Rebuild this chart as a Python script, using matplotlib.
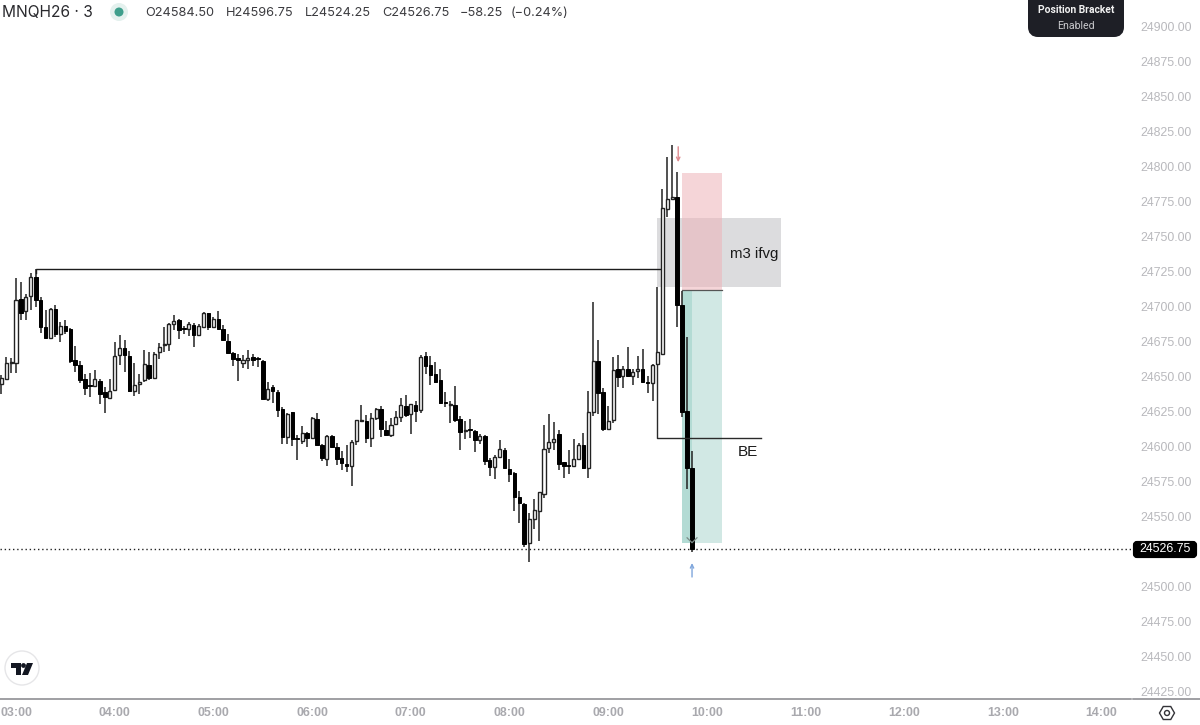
import matplotlib
matplotlib.use("Agg")
import matplotlib.pyplot as plt
from matplotlib.patches import Circle, FancyBboxPatch, Polygon, RegularPolygon
import numpy as np

# MNQH26 3 minute candles, bar 0 = 03:00, one bar = 3 min
opens = [24644.5, 24648, 24659.5, 24659.75, 24705, 24696.5, 24707.25, 24721, 24704.5, 24685,
         24677.25, 24697.75, 24680.25, 24686, 24683.5, 24661.75, 24658, 24648, 24643.25, 24643,
         24646.25, 24638.5, 24634.5, 24640, 24665, 24670, 24664.75, 24639.25, 24644.25, 24647.5,
         24658, 24648.75, 24667.5, 24672.25, 24672.75, 24687.5, 24690.5, 24684.25, 24683.5, 24686.5,
         24679.75, 24685.25, 24695, 24685.5, 24691, 24683.75, 24675.5, 24666.5, 24663, 24659.75,
         24661.5, 24664, 24662.25, 24661, 24634, 24642, 24638.75, 24626.5, 24606.5, 24624.25,
         24605.5, 24604, 24609.75, 24605.5, 24619.75, 24601, 24591, 24607.25, 24599.5, 24591.5,
         24587.25, 24585.5, 24603.75, 24618.25, 24618, 24606, 24620.5, 24626.75, 24611.5, 24608.25,
         24616, 24621, 24628.75, 24622.75, 24629.25, 24626, 24664.25, 24657.75, 24651.5, 24647,
         24631.25, 24629.25, 24629.25, 24619.5, 24611, 24612, 24610.5, 24604.5, 24607.5, 24590,
         24585.25, 24592.5, 24597, 24584, 24580.75, 24564, 24558.5, 24530.5, 24548.25, 24553.75,
         24565.5, 24599, 24603, 24609, 24588.5, 24586.25, 24586, 24590.75, 24601, 24584.25,
         24624.75, 24661, 24638.5, 24612.25, 24618.75, 24655, 24650.25, 24655, 24650.25, 24653.5,
         24655, 24645.5, 24645.5, 24658.5, 24666, 24769.5, 24776.75, 24778, 24701, 24625, 24584.5]
highs = [24651, 24663.5, 24662.75, 24720, 24717.5, 24709, 24723.5, 24727, 24706.5, 24697.25,
         24698.5, 24701, 24689, 24690.25, 24684.25, 24671.75, 24660.75, 24651.25, 24652, 24654.5,
         24648, 24642, 24647.75, 24674.75, 24679.5, 24676, 24668, 24659.25, 24651.5, 24668.75,
         24667.5, 24667.5, 24673.5, 24685.5, 24688.25, 24693.5, 24691.25, 24686, 24689, 24688.25,
         24687.25, 24696, 24695.5, 24692.5, 24696.75, 24686.5, 24680.5, 24667.5, 24666.25, 24665.25,
         24668.75, 24666, 24663.5, 24661.25, 24645.75, 24643.75, 24640, 24628.25, 24623.5, 24624.75,
         24607.75, 24614.25, 24610, 24620.75, 24623.5, 24601.25, 24607.75, 24608, 24602, 24596.5,
         24601, 24604.5, 24618.75, 24629.5, 24622.25, 24623.5, 24627, 24628.75, 24618.25, 24620,
         24625.5, 24634.25, 24636.5, 24630.25, 24632.25, 24665.25, 24667, 24664.5, 24660, 24655,
         24638.75, 24632.25, 24643.25, 24621.5, 24618.25, 24619.25, 24611.5, 24608.75, 24608, 24591.75,
         24593.75, 24604.5, 24599, 24590.75, 24581.25, 24568, 24559.25, 24552, 24562.25, 24567.5,
         24615.25, 24622.75, 24617.25, 24611.25, 24589, 24597.25, 24605, 24602, 24609.25, 24639.5,
         24703.25, 24676, 24641.25, 24629, 24664, 24665.25, 24657.25, 24670.75, 24655, 24664.5,
         24669.25, 24650.25, 24658.75, 24713.75, 24783.75, 24806.75, 24815.25, 24796, 24711, 24678, 24596.75]
lows = [24637.5, 24647.75, 24652, 24652.5, 24690.5, 24690, 24697.25, 24699.75, 24681, 24677,
        24676.5, 24677.75, 24674.75, 24680.25, 24659.25, 24652.75, 24645.5, 24636.5, 24635.25, 24642,
        24630, 24624, 24634, 24639.75, 24658, 24653.25, 24638.75, 24635.75, 24637.25, 24646,
        24647.25, 24648.5, 24662, 24667.5, 24668.25, 24683, 24676.75, 24680.25, 24678.75, 24671,
        24679.25, 24684.75, 24683, 24684.25, 24683.5, 24675.5, 24666, 24657.25, 24646.75, 24656,
        24655, 24657, 24656.5, 24633.5, 24632, 24630.75, 24620.75, 24601.5, 24601.5, 24600,
        24590.25, 24601.5, 24599.5, 24605, 24600.5, 24589.75, 24586, 24598.75, 24586.5, 24583,
        24581.75, 24571.5, 24601, 24617.5, 24602.5, 24599.75, 24618.75, 24606.75, 24607.75, 24606.5,
        24615.5, 24617.25, 24620.75, 24608.75, 24617.25, 24624, 24651.5, 24643.5, 24645, 24630.5,
        24627.75, 24616.75, 24617.5, 24597.25, 24605.25, 24605.75, 24596, 24601.25, 24586.25, 24578.75,
        24576.75, 24591.75, 24583.5, 24574.5, 24553.5, 24544.75, 24528.25, 24517.5, 24540.5, 24532.5,
        24562.75, 24595.25, 24597.25, 24582.75, 24577, 24580, 24585.25, 24590.25, 24583.75, 24577.5,
        24621.75, 24623.25, 24611, 24611.5, 24616.75, 24642.5, 24641.75, 24649.75, 24643.75, 24649,
        24645.5, 24637.75, 24632.5, 24658.25, 24665.5, 24763.75, 24776, 24685.25, 24621, 24569.5, 24524.25]
closes = [24648.5, 24659.75, 24659.75, 24704.25, 24695.5, 24706.5, 24721, 24704.5, 24685, 24677.25,
          24697.75, 24680.25, 24686, 24682.5, 24661, 24658, 24647, 24641.25, 24643, 24647.75,
          24637.5, 24635.25, 24639.25, 24664.25, 24670, 24665, 24639.25, 24643.5, 24646, 24659,
          24648.5, 24666.25, 24671, 24672.5, 24687.5, 24689.75, 24683, 24684, 24687.25, 24679.75,
          24686.25, 24695, 24685.25, 24691, 24684, 24676, 24666.5, 24662.5, 24661.25, 24661.25,
          24662.75, 24661.5, 24662, 24634, 24641, 24639.5, 24625.75, 24606.5, 24623, 24605.25,
          24605.25, 24609.25, 24606, 24620.25, 24601, 24591.25, 24607.25, 24599.25, 24590.5, 24587.75,
          24585.5, 24603, 24618.5, 24618.5, 24605.75, 24620.5, 24626.5, 24612.25, 24608.25, 24615.5,
          24620.75, 24629.75, 24622.5, 24630, 24625.25, 24664, 24657, 24651, 24646, 24631,
          24631, 24629.5, 24619, 24610, 24611.25, 24611.75, 24604.5, 24607, 24589.75, 24585,
          24592, 24598.25, 24584.25, 24580, 24564, 24559.5, 24529.75, 24547.75, 24554.25, 24567,
          24598.25, 24602.75, 24605, 24587.5, 24585.75, 24586, 24591, 24600.5, 24584.25, 24624.75,
          24661, 24637.75, 24612.25, 24618.25, 24654.5, 24649.5, 24655, 24650.25, 24652.75, 24655.5,
          24646, 24645.25, 24658.25, 24667, 24770.25, 24776.75, 24778, 24701, 24624.5, 24584.5, 24526.75]
first_bar = -3

# 24525.00 is hidden behind the last price tag on the real chart
price_ticks = [p for p in range(24425, 24901, 25) if p != 24525]
hour_labels = ["03:00", "04:00", "05:00", "06:00", "07:00", "08:00", "09:00",
               "10:00", "11:00", "12:00", "13:00", "14:00"]
hour_bars = np.arange(0, 221, 20)
last_price = 24526.75

W, H = 1200, 725
fig = plt.figure(figsize=(W / 100, H / 100), dpi=100, facecolor="white")

# main chart, axes stops where the price scale begins
ax = fig.add_axes([0, (H - 698.7) / H, 1131 / W, 698.7 / H])
ax.set_xlim(-16 / 4.9345, (1131 - 16) / 4.9345)
ax.set_ylim(24419.5, 24918.94)
for s in ["top", "left", "right"]:
    ax.spines[s].set_visible(False)
ax.spines["bottom"].set_color("#85858a")
ax.spines["bottom"].set_linewidth(1.1)

ax.yaxis.tick_right()
ax.set_yticks(price_ticks)
ax.set_yticklabels([f"{p:.2f}" for p in price_ticks], fontfamily="Liberation Sans", fontsize=8.9, color="#b9b9bd")
ax.set_xticks(hour_bars)
ax.set_xticklabels(hour_labels, fontfamily="Liberation Sans", fontsize=8.9, fontweight="bold", color="#a9a9ae")
ax.tick_params(axis="y", length=0, pad=7)
ax.tick_params(axis="x", length=0, pad=6)

# position tool and zones, all behind the candles
ax.fill_between([130, 155], 24714, 24763.3, color="#dcdcde", lw=0, zorder=1)
ax.fill_between([135, 143], 24711.6, 24795.5, color="#eeb3b9", alpha=0.55, lw=0, zorder=2)
ax.fill_between([135, 143], 24530.6, 24711.6, color="#d1e8e4", lw=0, zorder=2)
ax.fill_between([135, 137], 24530.6, 24711.6, color="#b3dbd4", lw=0, zorder=2)
ax.plot([135, 143], [24711.6, 24711.6], color="#555555", lw=0.9, zorder=3)

# candles
bars = np.arange(first_bar, first_bar + len(closes))
o = np.array(opens)
c = np.array(closes)
up = c >= o
ax.vlines(bars, lows, highs, color="#222222", lw=1.1, zorder=4)
ax.bar(bars[up], np.maximum(c - o, 0.7)[up], bottom=o[up], width=0.62, facecolor="white",
       edgecolor="#222222", lw=1.0, zorder=5)
ax.bar(bars[~up], np.maximum(o - c, 0.7)[~up], bottom=c[~up], width=0.72, facecolor="black",
       edgecolor="black", lw=0.7, zorder=5)

# hand drawn levels
ax.plot([4, 4, 131], [24723.5, 24726.9, 24726.9], color="#1c1c1c", lw=1.0, zorder=3)
ax.plot([130, 130, 151], [24658.25, 24605.5, 24605.5], color="#2a2a2a", lw=1.0, zorder=6)
ax.text(148.4, 24595.5, "BE", fontfamily="Liberation Sans", fontsize=11, ha="center", va="center", color="#1a1a1a")
ax.text(149.5, 24737.5, "m3 ifvg", fontfamily="Liberation Sans", fontsize=10.8, ha="center", va="center", color="#1a1a1a", zorder=7)

# last price line
ax.axhline(last_price, color="#222222", lw=1.0, ls=(0, (1, 2)), zorder=3)

# trade arrows
ax.annotate("", xy=(134.2, 24803), xytext=(134.2, 24814),
            arrowprops=dict(arrowstyle="->,head_width=0.12,head_length=0.25", color="#df8c90", lw=1,
                            shrinkA=0, shrinkB=0))
ax.annotate("", xy=(137, 24516.5), xytext=(137, 24506.5),
            arrowprops=dict(arrowstyle="->,head_width=0.12,head_length=0.25", color="#7fa6dc", lw=1,
                            shrinkA=0, shrinkB=0))
ax.plot([136, 137, 138], [24534.5, 24531, 24534.5], color="#7a8a86", lw=0.9, zorder=6)

# overlay in pixels for the interface bits
ui = fig.add_axes([0, 0, 1, 1], facecolor="none")
ui.set_xlim(0, W)
ui.set_ylim(H, 0)
ui.axis("off")

ui.plot([1133, W], [698.7, 698.7], color="#85858a", lw=1.1)

ui.text(2, 12.5, "MNQH26 \u00b7 3", fontfamily="Inter", fontsize=11.2, va="center", color="#2a2a2e")
ui.add_patch(Circle((119, 12), 9, color="#e4f1ee", lw=0))
ui.add_patch(Circle((119, 12), 4.5, color="#3f9f8c", lw=0))
header = [(145, "O24584.50"), (226, "H24596.75"), (305, "L24524.25"), (382, "C24526.75"),
          (460, "\u221258.25"), (511, "(\u22120.24%)")]
for hx, txt in header:
    ui.text(hx, 12.5, txt, fontfamily="Inter", fontsize=9.2, va="center", color="#3c3c40")

ui.add_patch(FancyBboxPatch((1033, -8), 86, 40, boxstyle="round,pad=0,rounding_size=5",
                            mutation_aspect=1, facecolor="#1e1f26", edgecolor="#1e1f26", lw=10 * 0.72))
ui.text(1076, 10, "Position Bracket", fontfamily="Roboto", fontsize=7.4, fontweight="bold", ha="center", va="center", color="#f2f2f2")
ui.text(1076, 26, "Enabled", fontfamily="Roboto", fontsize=7.6, ha="center", va="center", color="#c8c8cc")

ui.add_patch(FancyBboxPatch((1135, 543), 60, 13, boxstyle="round,pad=0,rounding_size=2",
                            facecolor="black", edgecolor="black", lw=3))
ui.text(1165, 549.5, "24526.75", fontfamily="Liberation Sans", fontsize=8.9, ha="center", va="center", color="white")

# tradingview badge
ui.add_patch(Circle((22, 668), 17, facecolor="white", edgecolor="#e6e6e8", lw=1))
ui.add_patch(Polygon([(11, 663), (21, 663), (21, 675), (16, 675), (16, 668), (11, 668)], color="#131722", lw=0))
ui.add_patch(Circle((23.5, 665.5), 2.4, color="#131722", lw=0))
ui.add_patch(Polygon([(27, 663), (33, 663), (28, 675), (22, 675)], color="#131722", lw=0))

# settings icon
ui.add_patch(RegularPolygon((1167, 713), 6, radius=7.5, orientation=np.pi / 6, facecolor="none", edgecolor="#333338", lw=1))
ui.add_patch(Circle((1167, 713), 2.5, facecolor="none", edgecolor="#333338", lw=1))

fig.savefig("out.png", dpi=100)
